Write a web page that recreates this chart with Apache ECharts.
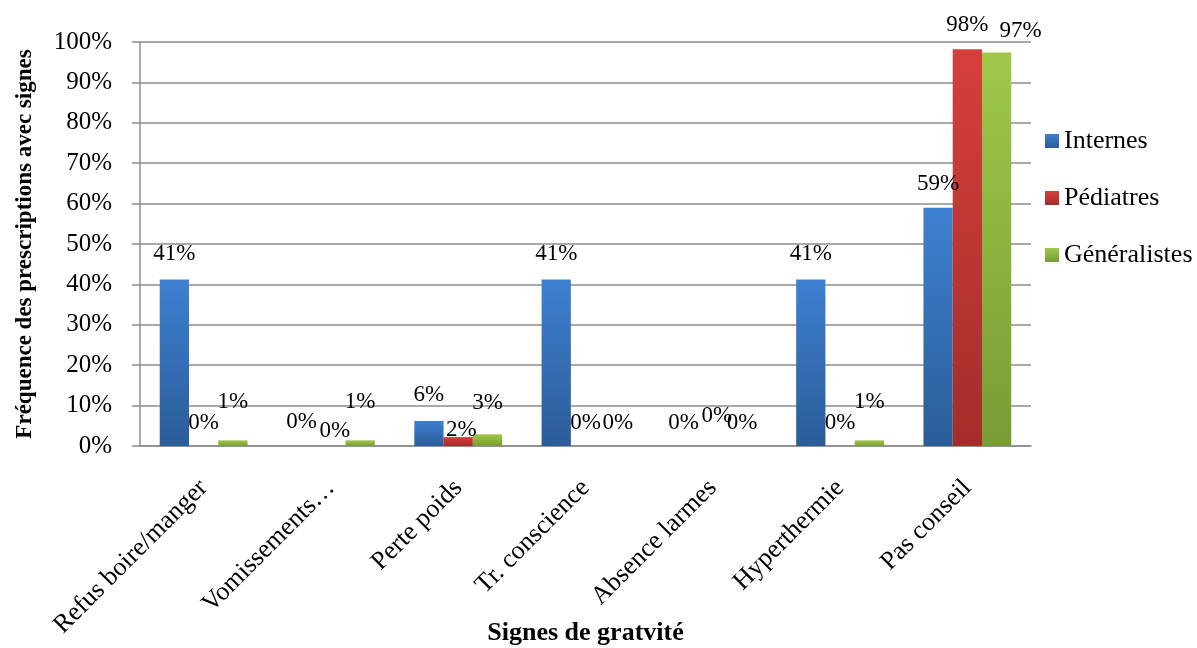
<!DOCTYPE html>
<html>
<head>
<meta charset="utf-8">
<script src="https://cdn.jsdelivr.net/npm/echarts@6/dist/echarts.min.js"></script>
<style>
html,body{margin:0;padding:0;background:#fff;}
#chart{width:1197px;height:648px;}
</style>
</head>
<body>
<div id="chart"></div>
<script>
const categories = ['Refus boire/manger', 'Vomissements…', 'Perte poids', 'Tr. conscience', 'Absence larmes', 'Hyperthermie', 'Pas conseil'];
const seriesNames = ['Internes', 'Pédiatres', 'Généralistes'];
const internes = [41.2, 0, 6.2, 41.2, 0, 41.2, 59.0];
const pediatres = [0, 0, 2.2, 0, 0, 0, 98.2];
const generalistes = [1.4, 1.4, 2.9, 0, 0, 1.4, 97.4];
const yTicks = [0, 10, 20, 30, 40, 50, 60, 70, 80, 90, 100];

// nudges of the value labels (px), mimicking the source's label placement
const labelNudgeY = [
  [0, 1, 0, 0, 2, 0, 2],
  [2, 10, 18, 2, -5, 2, 1],
  [-13, -13, -6, 2, 2, -13, 4]
];
const labelNudgeX = [
  [0, 0, 0, 0, 0, 0, 0],
  [0, 4, 3, 0, 4, 0, 0],
  [0, 0, 0, 3, 0, 0, 24]
];

const FONT = '"Liberation Serif", "Times New Roman", serif';
function grad(top, bottom) {
  return new echarts.graphic.LinearGradient(0, 0, 0, 1, [
    {offset: 0, color: top}, {offset: 1, color: bottom}
  ]);
}
const colors = [grad('#3e80d1', '#2b5c98'), grad('#d63f3b', '#a32d2a'), grad('#9fc84b', '#789c35')];
const allData = [internes, pediatres, generalistes];

const chart = echarts.init(document.getElementById('chart'), null, {renderer: 'canvas'});
chart.setOption({
  animation: false,
  backgroundColor: '#ffffff',
  grid: {left: 140, right: 166, top: 42, bottom: 202, containLabel: false, outerBoundsMode: 'none'},
  legend: {
    orient: 'vertical',
    left: 1045,
    top: 128,
    padding: 0,
    itemWidth: 14,
    itemHeight: 14,
    itemGap: 31,
    icon: 'rect',
    textStyle: {fontFamily: FONT, fontSize: 26, color: '#000', lineHeight: 26},
    data: seriesNames
  },
  xAxis: {
    type: 'category',
    data: categories,
    name: 'Signes de gratvité',
    nameLocation: 'middle',
    nameGap: 174,
    nameMoveOverlap: false,
    nameTextStyle: {fontFamily: FONT, fontSize: 26, fontWeight: 'bold', color: '#000'},
    axisLine: {lineStyle: {color: '#8c8c8c', width: 1.5}},
    axisTick: {show: false},
    axisLabel: {rotate: 45, interval: 0, margin: 38, fontFamily: FONT, fontSize: 26, color: '#000'}
  },
  yAxis: {
    type: 'value',
    min: yTicks[0],
    max: yTicks[yTicks.length - 1],
    interval: 10,
    name: 'Fréquence des prescriptions avec signes',
    nameLocation: 'middle',
    nameGap: 103,
    nameMoveOverlap: false,
    nameTextStyle: {fontFamily: FONT, fontSize: 23, fontWeight: 'bold', color: '#000'},
    axisLine: {show: true, lineStyle: {color: '#8c8c8c', width: 1.5}},
    axisTick: {show: true, length: 8, lineStyle: {color: '#8c8c8c', width: 1.5}},
    splitLine: {show: true, lineStyle: {color: '#8c8c8c', width: 1.5}},
    axisLabel: {margin: 28, fontFamily: FONT, fontSize: 25, color: '#000', formatter: '{value}%'}
  },
  series: seriesNames.map((name, i) => ({
    name: name,
    type: 'bar',
    data: allData[i],
    barGap: '0%',
    barCategoryGap: '31%',
    itemStyle: {color: colors[i]},
    label: {
      show: true,
      position: 'top',
      distance: 14,
      fontFamily: FONT,
      fontSize: 23,
      color: '#000',
      formatter: p => Math.round(p.value) + '%'
    },
    labelLayout: p => ({dx: labelNudgeX[i][p.dataIndex], dy: labelNudgeY[i][p.dataIndex]})
  }))
});
</script>
</body>
</html>
